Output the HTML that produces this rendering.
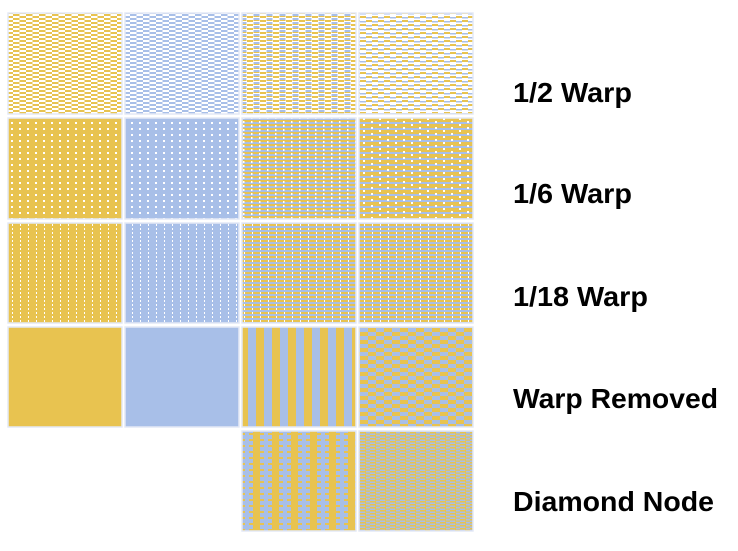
<!DOCTYPE html>
<html><head><style>
body{margin:0;background:#fff;width:738px;height:546px;overflow:hidden}
text{font-family:"Liberation Sans",sans-serif;font-weight:bold;font-size:28px;fill:#000}
</style></head><body>
<svg width="738" height="546" xmlns="http://www.w3.org/2000/svg">
<defs>
<pattern id="p1y" width="13" height="4" patternUnits="userSpaceOnUse"><rect width="13" height="4" fill="#e8c350"/><rect x="0" y="0" width="6.5" height="2" fill="#fff"/><rect x="6.5" y="2" width="6.5" height="2" fill="#fff"/></pattern>
<pattern id="p1b" width="13" height="4" patternUnits="userSpaceOnUse"><rect width="13" height="4" fill="#a8bfe8"/><rect x="0" y="0" width="6.5" height="2" fill="#fff"/><rect x="6.5" y="2" width="6.5" height="2" fill="#fff"/></pattern>
<pattern id="p1c" width="13" height="4" patternUnits="userSpaceOnUse"><rect width="13" height="4" fill="#fff"/><rect x="0" y="0" width="6" height="2" fill="#e8c350"/><rect x="6.5" y="2" width="6" height="2" fill="#a8bfe8"/><rect x="6.5" y="0" width="6" height="1" fill="#e8c350"/></pattern>
<pattern id="p1d" width="12" height="8" patternUnits="userSpaceOnUse"><rect width="12" height="8" fill="#fff"/><rect x="0" y="0" width="6" height="2" fill="#e8c350"/><rect x="6" y="4" width="6" height="2" fill="#e8c350"/><rect x="6" y="1" width="6" height="1.5" fill="#a8bfe8"/><rect x="0" y="5" width="6" height="1.5" fill="#a8bfe8"/></pattern>
<pattern id="p2y" width="8" height="6" patternUnits="userSpaceOnUse"><rect width="8" height="6" fill="#e8c350"/><rect x="3" y="2" width="2" height="2" fill="#fff"/></pattern>
<pattern id="p2b" width="8" height="6" patternUnits="userSpaceOnUse"><rect width="8" height="6" fill="#a8bfe8"/><rect x="3" y="2" width="2" height="2" fill="#fff"/></pattern>
<pattern id="p2c" width="8" height="4" patternUnits="userSpaceOnUse"><rect width="8" height="4" fill="#e8c350"/><rect y="2" width="8" height="2" fill="#a8bfe8"/><rect x="3" y="1" width="1.5" height="2" fill="#fff"/></pattern>
<pattern id="p2d" width="16" height="6" patternUnits="userSpaceOnUse"><rect width="16" height="6" fill="#e8c350"/><rect y="2" width="16" height="2" fill="#a8bfe8"/><rect x="3" y="1" width="2" height="2" fill="#fff"/><rect x="11" y="4" width="2" height="2" fill="#fff"/></pattern>
<pattern id="p3y" width="8" height="4" patternUnits="userSpaceOnUse"><rect width="8" height="4" fill="#e8c350"/><rect x="4" y="0" width="1" height="2" fill="#fff"/></pattern>
<pattern id="p3b" width="8" height="4" patternUnits="userSpaceOnUse"><rect width="8" height="4" fill="#a8bfe8"/><rect x="4" y="0" width="1" height="2" fill="#fff"/></pattern>
<pattern id="p3c" width="8" height="4" patternUnits="userSpaceOnUse"><rect width="8" height="4" fill="#e8c350"/><rect y="2" width="8" height="2" fill="#a8bfe8"/><rect x="4" y="0" width="1" height="2" fill="#fff"/></pattern>
<pattern id="p4c" width="16" height="4" patternUnits="userSpaceOnUse"><rect width="16" height="4" fill="#a8bfe8"/><rect x="0" width="8" height="4" fill="#e8c350"/></pattern>
<pattern id="p4d" width="16" height="8" patternUnits="userSpaceOnUse"><rect width="16" height="8" fill="#a8bfe8"/><rect x="0" y="0" width="8" height="4" fill="#e8c350"/><rect x="8" y="4" width="8" height="4" fill="#e8c350"/></pattern>
<pattern id="p5c" width="19" height="6" patternUnits="userSpaceOnUse"><rect width="19" height="6" fill="#a8bfe8"/><rect x="6" width="7" height="6" fill="#e8c350"/><rect x="2" y="1" width="15" height="2" fill="#e8c350"/></pattern>
<pattern id="p5d" width="10" height="3" patternUnits="userSpaceOnUse"><rect width="10" height="3" fill="#a8bfe8"/><rect width="6" height="1.5" fill="#e8c350"/><rect x="5" y="1.5" width="5" height="1.2" fill="#e8c350"/></pattern>
</defs>
<g stroke="#e4e9f5" stroke-width="1.5">
<rect x="8" y="13" width="114" height="101" fill="url(#p1y)"/>
<rect x="125" y="13" width="114" height="101" fill="url(#p1b)"/>
<rect x="242" y="13" width="114" height="101" fill="url(#p1c)"/>
<rect x="359" y="13" width="114" height="101" fill="url(#p1d)"/>
<rect x="8" y="118" width="114" height="101" fill="url(#p2y)"/>
<rect x="125" y="118" width="114" height="101" fill="url(#p2b)"/>
<rect x="242" y="118" width="114" height="101" fill="url(#p2c)"/>
<rect x="359" y="118" width="114" height="101" fill="url(#p2d)"/>
<rect x="8" y="223" width="114" height="100" fill="url(#p3y)"/>
<rect x="125" y="223" width="114" height="100" fill="url(#p3b)"/>
<rect x="242" y="223" width="114" height="100" fill="url(#p3c)"/>
<rect x="359" y="223" width="114" height="100" fill="url(#p3c)"/>
<rect x="8" y="327" width="114" height="100" fill="#e8c350"/>
<rect x="125" y="327" width="114" height="100" fill="#a8bfe8"/>
<rect x="242" y="327" width="114" height="100" fill="url(#p4c)"/>
<rect x="359" y="327" width="114" height="100" fill="url(#p4d)"/>
<rect x="242" y="431" width="114" height="100" fill="url(#p5c)"/>
<rect x="359" y="431" width="114" height="100" fill="url(#p5d)"/>
</g>
<text x="513" y="102" textLength="119" lengthAdjust="spacingAndGlyphs">1/2 Warp</text>
<text x="513" y="203" textLength="119" lengthAdjust="spacingAndGlyphs">1/6 Warp</text>
<text x="513" y="306" textLength="135" lengthAdjust="spacingAndGlyphs">1/18 Warp</text>
<text x="513" y="408" textLength="205" lengthAdjust="spacingAndGlyphs">Warp Removed</text>
<text x="513" y="511" textLength="201" lengthAdjust="spacingAndGlyphs">Diamond Node</text>
</svg>
</body></html>
